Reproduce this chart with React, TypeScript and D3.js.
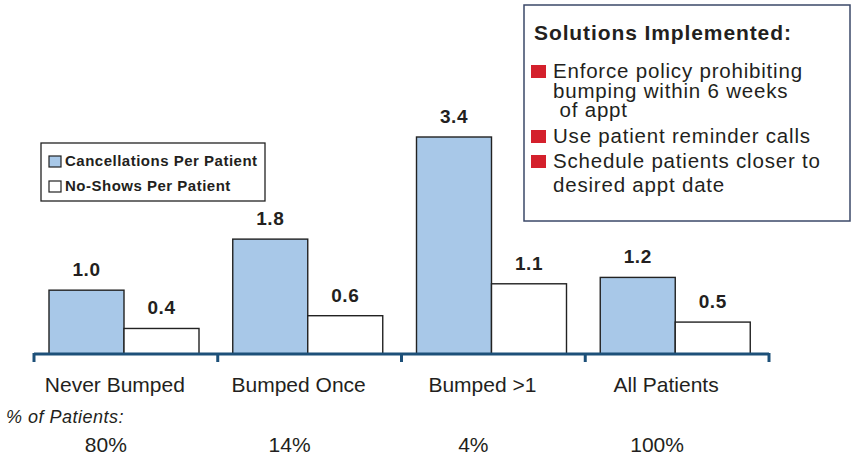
import React from "react";
import * as d3 from "d3";

const categories = ["Never Bumped", "Bumped Once", "Bumped >1", "All Patients"];
const seriesNames = ["Cancellations Per Patient", "No-Shows Per Patient"];
const cancellations = [1.0, 1.8, 3.4, 1.2];
const noShows = [0.4, 0.6, 1.1, 0.5];
const pctOfPatients = ["80%", "14%", "4%", "100%"];
const solutionsTitle = "Solutions Implemented:";
const solutions = [
  ["Enforce policy prohibiting", "bumping within 6 weeks", " of appt"],
  ["Use patient reminder calls"],
  ["Schedule patients closer to", "desired appt date"],
];

const W = 856;
const H = 458;
const FONT = "'Liberation Sans', Arial, Helvetica, sans-serif";
const TEXT = "#231f20";
const BLUE = "#a8c8e8";
const AXIS = "#1d5079";
const RED = "#d4202c";

export default function App() {
  const x0 = d3.scaleBand<string>().domain(categories).range([34, 769]).paddingInner(0).paddingOuter(0);
  const bw = x0.bandwidth();
  const x1 = d3.scaleBand<string>().domain(seriesNames).range([15, 165]).padding(0);
  const y = d3.scaleLinear().domain([0, 3.4]).range([354, 137]);
  const series = [cancellations, noShows];
  const fills = [BLUE, "#ffffff"];
  const ticks = categories.map((c) => x0(c) as number).concat([769]);

  const lineBaselines = [[78, 98, 117], [143], [168, 192]];
  const squareTops = [65, 130, 155];

  return (
    <svg width={W} height={H} style={{ position: "absolute", left: 0, top: 0, fontFamily: FONT }}>
      <rect x={0} y={0} width={W} height={H} fill="#ffffff" />
      {/* bars */}
      {categories.map((c, i) => (
        <g key={c} transform={`translate(${x0(c)},0)`}>
          {series.map((s, k) => {
            const xs = x1(seriesNames[k]) as number;
            const bwi = x1.bandwidth();
            return (
              <g key={k}>
                <rect
                  x={xs}
                  y={y(s[i])}
                  width={bwi}
                  height={y(0) - y(s[i])}
                  fill={fills[k]}
                  stroke="#222"
                  strokeWidth={1.4}
                />
                <text
                  x={xs + bwi / 2}
                  y={y(s[i]) - 14}
                  textAnchor="middle"
                  fontSize={19}
                  fontWeight="bold"
                  fill={TEXT}
                  letterSpacing={0.6}
                >
                  {s[i].toFixed(1)}
                </text>
              </g>
            );
          })}
        </g>
      ))}
      {/* axis */}
      <line x1={34} x2={769} y1={354} y2={354} stroke={AXIS} strokeWidth={3} />
      {ticks.map((t, i) => (
        <line key={i} x1={t} x2={t} y1={353} y2={362} stroke={AXIS} strokeWidth={3} />
      ))}
      {categories.map((c) => (
        <text
          key={c}
          x={(x0(c) as number) + bw / 2 - 11}
          y={392}
          textAnchor="middle"
          fontSize={21}
          fill={TEXT}
        >
          {c}
        </text>
      ))}
      <text x={6} y={423} fontSize={18} fontStyle="italic" fill={TEXT} letterSpacing={0.5}>
        % of Patients:
      </text>
      {categories.map((c, i) => (
        <text
          key={c + "p"}
          x={(x0(c) as number) + bw / 2 - 20}
          y={452}
          textAnchor="middle"
          fontSize={21}
          fill={TEXT}
        >
          {pctOfPatients[i]}
        </text>
      ))}
      {/* series legend */}
      <rect x={41} y={143} width={224} height={58} fill="#fff" stroke="#222" strokeWidth={1.3} />
      {seriesNames.map((n, k) => (
        <g key={n}>
          <rect x={49} y={156 + k * 25} width={12} height={11} fill={fills[k]} stroke="#222" strokeWidth={1.2} />
          <text x={65} y={166 + k * 25} fontSize={15} fontWeight="bold" fill={TEXT} letterSpacing={0.5}>
            {n}
          </text>
        </g>
      ))}
      {/* solutions box */}
      <rect x={524} y={5} width={326} height={216} fill="#fff" stroke="#3b4868" strokeWidth={1.5} />
      <text x={534} y={40} fontSize={21} fontWeight="bold" fill={TEXT} letterSpacing={0.9}>
        {solutionsTitle}
      </text>
      {solutions.map((lines, i) => (
        <g key={i}>
          <rect x={531} y={squareTops[i]} width={15} height={13} fill={RED} />
          {lines.map((l, j) => (
            <text
              key={j}
              x={553}
              y={lineBaselines[i][j]}
              fontSize={20.5}
              fill={TEXT}
              letterSpacing={0.8}
              style={{ whiteSpace: "pre" }}
            >
              {l}
            </text>
          ))}
        </g>
      ))}
    </svg>
  );
}
